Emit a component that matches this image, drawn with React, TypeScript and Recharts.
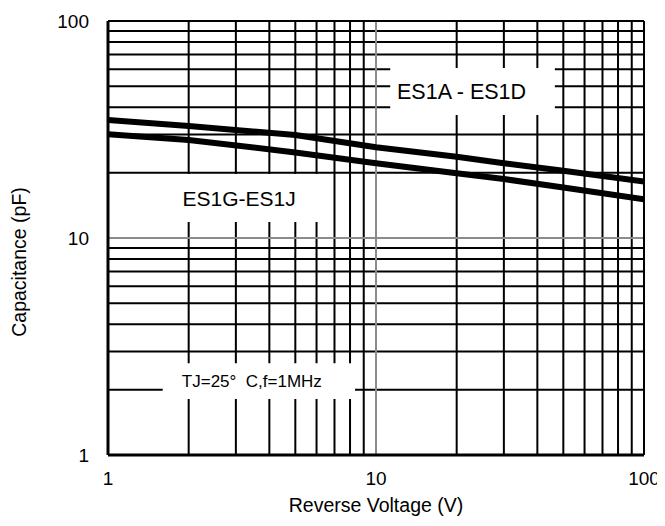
import React from "react"
import { LineChart, Line, XAxis, YAxis, ReferenceLine, ReferenceArea } from "recharts"

// reverse voltage (V) and junction capacitance (pF)
const voltage = [1, 2, 5, 10, 20, 30, 50, 100]
const es1aToD = [35, 32.8, 29.8, 26.2, 23.7, 22.1, 20.4, 18.2]
const es1gToJ = [30.1, 28.3, 24.8, 22.1, 19.9, 18.7, 17.1, 15.1]

const decadeTicks = [1, 10, 100]
const minorGrid = [2, 3, 4, 5, 6, 7, 8, 9, 20, 30, 40, 50, 60, 70, 80, 90]

const FONT = "'Liberation Sans', Arial, sans-serif"

const data = voltage.map((v, i) => ({ v, upper: es1aToD[i], lower: es1gToJ[i] }))

function BoxLabel(props: any) {
  const { viewBox, text, dx = 0, size = 20 } = props
  if (!viewBox) return null
  const { x, y, width, height } = viewBox
  return (
    <text
      x={x + width / 2 + dx}
      y={y + height / 2}
      textAnchor="middle"
      dominantBaseline="central"
      fontSize={size}
      fontFamily={FONT}
      fill="#000"
      style={{ whiteSpace: "pre" }}
    >
      {text}
    </text>
  )
}

function YTitle(props: any) {
  const { viewBox } = props
  if (!viewBox) return null
  const x = viewBox.x + 11
  const y = viewBox.y + viewBox.height / 2 + 24
  return (
    <text x={x} y={y} transform={`rotate(-90, ${x}, ${y})`} textAnchor="middle" dominantBaseline="central"
      fontSize={19.5} fontFamily={FONT} fill="#000">
      Capacitance (pF)
    </text>
  )
}

function XTitle(props: any) {
  const { viewBox } = props
  if (!viewBox) return null
  return (
    <text x={viewBox.x + viewBox.width / 2} y={viewBox.y + 50} textAnchor="middle" dominantBaseline="central"
      fontSize={19.5} fontFamily={FONT} fill="#000">
      Reverse Voltage (V)
    </text>
  )
}

export default function App() {
  return (
    <div style={{ width: 657, height: 510, background: "#fff" }}>
      <LineChart width={657} height={510} data={data} margin={{ top: 13, right: 21, bottom: 23, left: 0 }}>
        <XAxis
          dataKey="v"
          type="number"
          scale="log"
          domain={[1, 100]}
          ticks={decadeTicks}
          allowDataOverflow
          height={40}
          tickLine={false}
          tickSize={0}
          tickMargin={17}
          axisLine={{ stroke: "#000", strokeWidth: 3 }}
          tick={{ fill: "#000", fontSize: 19, fontFamily: FONT }}
          label={<XTitle />}
        />
        <YAxis
          type="number"
          scale="log"
          domain={[1, 100]}
          ticks={decadeTicks}
          allowDataOverflow
          width={100}
          tickLine={false}
          tickSize={0}
          tickMargin={19}
          axisLine={{ stroke: "#000", strokeWidth: 3 }}
          tick={{ fill: "#000", fontSize: 19, fontFamily: FONT }}
          label={<YTitle />}
        />

        {minorGrid.map((g) => (
          <ReferenceLine key={"x" + g} x={g} stroke="#000" strokeWidth={2} zIndex={50} />
        ))}
        {minorGrid.map((g) => (
          <ReferenceLine key={"y" + g} y={g} stroke="#000" strokeWidth={2} zIndex={50} />
        ))}
        <ReferenceLine x={10} stroke="#8c8c8c" strokeWidth={2} zIndex={50} />
        <ReferenceLine y={10} stroke="#8c8c8c" strokeWidth={2} zIndex={50} />
        <ReferenceLine x={100} stroke="#000" strokeWidth={2} zIndex={50} />
        <ReferenceLine y={100} stroke="#000" strokeWidth={2} zIndex={50} />

        <ReferenceArea x1={11.3} x2={46.5} y1={36.9} y2={60.7} fill="#fff" fillOpacity={1} stroke="none" zIndex={60}
          label={<BoxLabel text="ES1A - ES1D" dx={-11} size={21.5} />} />
        <ReferenceArea x1={1.02} x2={6.74} y1={11.85} y2={19.7} fill="#fff" fillOpacity={1} stroke="none" zIndex={60}
          label={<BoxLabel text="ES1G-ES1J" dx={19} size={21} />} />
        <ReferenceArea x1={1.6} x2={8.35} y1={1.81} y2={2.65} fill="#fff" fillOpacity={1} stroke="none" zIndex={60}
          label={<BoxLabel text="TJ=25°  C,f=1MHz" dx={-7} size={17} />} />

        <Line type="linear" dataKey="upper" stroke="#000" strokeWidth={6} dot={false} isAnimationActive={false} />
        <Line type="linear" dataKey="lower" stroke="#000" strokeWidth={6} dot={false} isAnimationActive={false} />
      </LineChart>
    </div>
  )
}
